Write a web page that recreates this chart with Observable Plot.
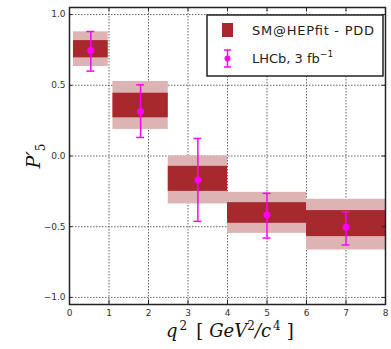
<!DOCTYPE html>
<html><head><meta charset="utf-8">
<script src="https://cdn.jsdelivr.net/npm/d3@7"></script>
<script src="https://cdn.jsdelivr.net/npm/@observablehq/plot@0.6"></script>
<style>body{margin:0;background:#fff}</style>
</head><body><div id="chart"></div>
<script>
// q² bins (GeV²/c⁴)
const binLo = [0.1, 1.1, 2.5, 4.0, 6.0];
const binHi = [0.98, 2.5, 4.0, 6.0, 8.0];
// SM@HEPfit - PDD prediction: inner (dark) and outer (light) bands
const smLo68 = [0.694, 0.270, -0.250, -0.476, -0.570];
const smHi68 = [0.816, 0.444, -0.073, -0.330, -0.386];
const smLo95 = [0.633, 0.188, -0.339, -0.547, -0.665];
const smHi95 = [0.878, 0.527, 0.000, -0.257, -0.306];
// LHCb 3 fb⁻¹ measurement
const lhcbX  = [0.54, 1.80, 3.25, 5.00, 7.00];
const lhcbY  = [0.746, 0.315, -0.170, -0.417, -0.503];
const lhcbLo = [0.600, 0.131, -0.462, -0.580, -0.629];
const lhcbHi = [0.880, 0.503, 0.124, -0.264, -0.395];
// axis ticks
const xTicks = [0, 1, 2, 3, 4, 5, 6, 7, 8];
const yTicks = [-1.0, -0.5, 0.0, 0.5, 1.0];

const dark = "#a8292d", light = "#ddb3b3", magenta = "#f0f";

const bins = binLo.map((lo, i) => ({lo, hi: binHi[i], lo68: smLo68[i], hi68: smHi68[i], lo95: smLo95[i], hi95: smHi95[i]}));
const points = lhcbX.map((x, i) => ({x, y: lhcbY[i], lo: lhcbLo[i], hi: lhcbHi[i]}));
const capHalf = 0.1;

const chart = Plot.plot({
  width: 391, height: 349,
  marginLeft: 69, marginRight: 6, marginTop: 7, marginBottom: 45,
  x: {domain: [0, 8]},
  y: {domain: [-1.05, 1.05]},
  style: {fontFamily: "DejaVu Sans", fontSize: "9px", color: "#333", background: "#fff"},
  marks: [
    Plot.gridX(xTicks, {stroke: "#555", strokeOpacity: 0.9, strokeDasharray: "1.5,1.5"}),
    Plot.gridY(yTicks, {stroke: "#555", strokeOpacity: 0.9, strokeDasharray: "1.5,1.5"}),
    Plot.rect(bins, {x1: "lo", x2: "hi", y1: "lo95", y2: "hi95", fill: light}),
    Plot.rect(bins, {x1: "lo", x2: "hi", y1: "lo68", y2: "hi68", fill: dark}),
    Plot.ruleX(points, {x: "x", y1: "lo", y2: "hi", stroke: magenta, strokeWidth: 1.5}),
    Plot.ruleY(points, {y: "lo", x1: d => d.x - capHalf, x2: d => d.x + capHalf, stroke: magenta, strokeWidth: 1.5}),
    Plot.ruleY(points, {y: "hi", x1: d => d.x - capHalf, x2: d => d.x + capHalf, stroke: magenta, strokeWidth: 1.5}),
    Plot.dot(points, {x: "x", y: "y", r: 3.5, fill: magenta}),
    // small inward ticks on all four sides
    Plot.ruleX(xTicks, {x: d => d, y1: -1.05, y2: -1.02, stroke: "#222"}),
    Plot.ruleX(xTicks, {x: d => d, y1: 1.02, y2: 1.05, stroke: "#222"}),
    Plot.ruleY(yTicks, {y: d => d, x1: 0, x2: 0.08, stroke: "#222"}),
    Plot.ruleY(yTicks, {y: d => d, x1: 7.92, x2: 8, stroke: "#222"}),
    Plot.axisX(xTicks, {tickSize: 0, tickPadding: 5, label: null, tickFormat: d => String(d)}),
    Plot.axisY(yTicks, {tickSize: 0, tickPadding: 4, label: null, tickFormat: d3.format(".1f")}),
    Plot.frame({stroke: "#222", strokeWidth: 1.5})
  ]
});
document.getElementById("chart").append(chart);

// axis titles and legend
const svg = d3.select(chart);
const xl = svg.append("text").attr("x", 166).attr("y", 337).attr("text-anchor", "start")
  .attr("font-family", "DejaVu Serif").attr("font-style", "italic").attr("font-size", 18).attr("fill", "#111");
xl.append("tspan").text("q");
xl.append("tspan").attr("dy", -7).attr("dx", 2).attr("font-size", 12).attr("font-style", "normal").text("2");
xl.append("tspan").attr("dy", 7).attr("dx", 9).attr("font-style", "normal").text("[");
xl.append("tspan").attr("dx", 6).text("GeV");
xl.append("tspan").attr("dy", -7).attr("font-size", 12).attr("font-style", "normal").text("2");
xl.append("tspan").attr("dy", 7).text("/c");
xl.append("tspan").attr("dy", -7).attr("dx", 2).attr("font-size", 12).attr("font-style", "normal").text("4");
xl.append("tspan").attr("dy", 7).attr("dx", 6).attr("font-style", "normal").text("]");

const yl = svg.append("text").attr("transform", "translate(40,156) rotate(-90)").attr("text-anchor", "middle")
  .attr("font-family", "DejaVu Serif").attr("font-style", "italic").attr("font-size", 19).attr("fill", "#111");
yl.append("tspan").text("P′");
yl.append("tspan").attr("dy", 5).attr("font-size", 12).attr("font-style", "normal").text("5");

const lg = svg.append("g").attr("text-anchor", "start");
lg.append("rect").attr("x", 207).attr("y", 15).attr("width", 176).attr("height", 61)
  .attr("fill", "#fff").attr("stroke", "#222").attr("stroke-width", 1.5);
lg.append("rect").attr("x", 222).attr("y", 23).attr("width", 11).attr("height", 14).attr("fill", dark);
lg.append("text").attr("x", 252).attr("y", 35).attr("font-family", "DejaVu Sans").attr("font-size", 13)
  .attr("fill", "#222").attr("textLength", 122).text("SM@HEPfit - PDD");
lg.append("line").attr("x1", 227.5).attr("x2", 227.5).attr("y1", 50).attr("y2", 67).attr("stroke", magenta).attr("stroke-width", 1.5);
lg.append("line").attr("x1", 224).attr("x2", 231).attr("y1", 50).attr("y2", 50).attr("stroke", magenta).attr("stroke-width", 1.5);
lg.append("line").attr("x1", 224).attr("x2", 231).attr("y1", 67).attr("y2", 67).attr("stroke", magenta).attr("stroke-width", 1.5);
lg.append("circle").attr("cx", 227.5).attr("cy", 58.5).attr("r", 3).attr("fill", magenta);
const t2 = lg.append("text").attr("x", 252).attr("y", 63).attr("font-family", "DejaVu Sans").attr("font-size", 13).attr("fill", "#222");
t2.append("tspan").text("LHCb, 3 fb");
t2.append("tspan").attr("dy", -6).attr("font-size", 9).text("−1");
</script>
</body></html>
